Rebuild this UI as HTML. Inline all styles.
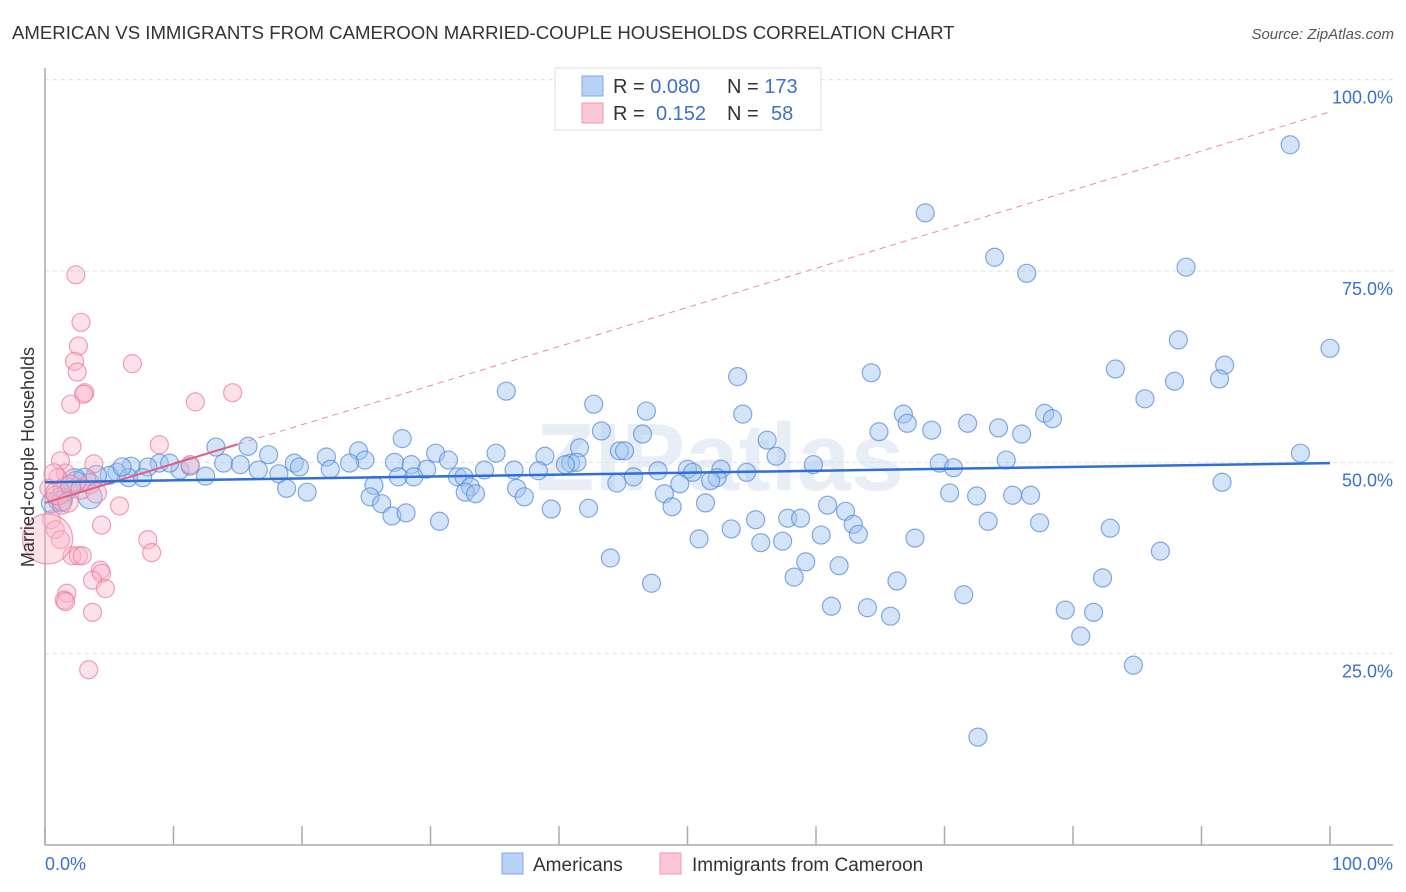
<!DOCTYPE html>
<html><head><meta charset="utf-8"><style>
body{margin:0;background:#fff;font-family:"Liberation Sans",sans-serif;}
svg{display:block}
</style></head><body>
<svg id="chart" width="1406" height="892">
<text x="12" y="39" font-size="18.6" fill="#333">AMERICAN VS IMMIGRANTS FROM CAMEROON MARRIED-COUPLE HOUSEHOLDS CORRELATION CHART</text>
<text x="1394" y="39" font-size="15" fill="#555" font-style="italic" text-anchor="end">Source: ZipAtlas.com</text>
<text x="720" y="490" font-size="96" fill="#e8eef6" text-anchor="middle" font-weight="bold">ZIPatlas</text>
<g id="grid"></g>
<g id="axes"></g>
<g id="marks"></g>
<text transform="translate(34,457) rotate(-90)" font-size="18" fill="#333" text-anchor="middle">Married-couple Households</text>
<text x="45" y="870" font-size="18" fill="#3d6fd1">0.0%</text>
<text x="1393" y="870" font-size="18" fill="#3d6fd1" text-anchor="end">100.0%</text>
<g>
<rect x="555" y="68" width="266" height="62" fill="#fff" stroke="#ddd"/>
<rect x="582" y="76" width="21" height="20" fill="#b8d2f5" stroke="#7fa8e6"/>
<rect x="582" y="103" width="21" height="20" fill="#fbc6d5" stroke="#ef9ab3"/>
<text x="613" y="93" font-size="20" fill="#333">R = <tspan fill="#3d6fd1">0.080</tspan><tspan x="727">N = </tspan><tspan fill="#3d6fd1">173</tspan></text>
<text x="613" y="120" font-size="20" fill="#333">R = <tspan x="656" fill="#3d6fd1">0.152</tspan><tspan x="727">N = </tspan><tspan x="771" fill="#3d6fd1">58</tspan></text>
</g>
<g>
<rect x="502" y="853" width="21" height="21" fill="#b8d2f5" stroke="#7fa8e6"/>
<text x="533" y="871" font-size="19" fill="#333">Americans</text>
<rect x="660" y="853" width="21" height="21" fill="#fbc6d5" stroke="#ef9ab3"/>
<text x="692" y="871" font-size="19" fill="#333">Immigrants from Cameroon</text>
</g>
</svg>
<script>
const yTicks=[25,50,75,100];
const yTickLabels=["25.0%","50.0%","75.0%","100.0%"];
const xTicks=[0,10,20,30,40,50,60,70,80,90,100];
const blueX=[96.9,68.5,73.9,76.4,88.8,88.2,100,91.8,83.3,87.9,91.4,53.9,64.3,35.9,85.6,42.7,46.8,54.3,66.8,77.8,67.1,71.8,78.4,69.0,74.2,43.3,46.5,64.9,56.2,76.0,27.8,13.3,15.8,30.4,38.9,35.1,41.6,21.9,24.4,17.4,97.7,56.9,74.8,69.6,70.7,59.8,40.9,41.4,44.7,45.1,24.9,27.2,23.7,19.4,19.8,22.2,28.5,31.4,34.2,36.5,38.4,40.5,47.7,50.0,50.4,52.6,54.6,52.3,51.8,29.7,32.1,32.6,27.5,28.7,45.8,44.5,49.4,18.2,12.5,16.6,13.9,15.2,10.5,11.3,8.9,8.0,6.7,5.6,5.0,6.5,4.0,3.1,2.3,1.6,1.2,3.5,0.5,91.6,33.1,32.7,33.5,36.7,37.3,18.8,20.4,25.6,25.3,26.2,27.0,28.1,30.7,39.4,42.3,48.2,48.8,51.4,60.9,62.3,62.9,63.3,70.4,72.5,73.4,75.3,76.7,77.4,82.9,86.8,53.4,55.3,57.8,58.8,55.7,57.4,50.9,60.4,67.7,44.0,47.2,59.2,58.3,61.8,66.3,82.3,71.5,79.4,81.6,61.2,64.0,65.8,80.6,84.7,72.6,7.6,9.7,6.0,1.3,2.4];
const blueY=[91.5,82.6,76.8,74.7,75.5,66.0,64.9,62.7,62.2,60.6,60.9,61.2,61.7,59.3,58.3,57.6,56.7,56.3,56.3,56.4,55.1,55.1,55.7,54.2,54.5,54.1,53.7,54.0,52.9,53.7,53.1,52.0,52.1,51.2,50.8,51.2,51.9,50.7,51.5,51.0,51.2,50.8,50.3,49.9,49.3,49.7,49.9,50.0,51.5,51.5,50.3,50.0,49.9,49.9,49.4,49.1,49.7,50.3,49.0,49.0,48.9,49.7,48.9,49.1,48.7,49.1,48.7,48.0,47.6,49.1,48.1,48.1,48.1,48.1,48.1,47.3,47.2,48.5,48.2,49.0,49.9,49.7,49.0,49.5,49.9,49.4,49.5,48.7,48.3,48.0,48.3,47.8,47.6,46.5,45.1,45.5,44.7,47.4,46.8,46.1,45.9,46.6,45.5,46.6,46.1,47.0,45.5,44.6,43.0,43.4,42.3,43.9,44.0,45.9,44.2,44.7,44.4,43.6,41.9,40.6,46.0,45.6,42.3,45.7,45.7,42.1,41.4,38.4,41.3,42.5,42.7,42.7,39.5,39.7,40.0,40.5,40.1,37.5,34.2,37.0,35.0,36.5,34.5,34.9,32.7,30.7,30.4,31.2,31.0,29.9,27.3,23.5,14.1,48.0,49.9,49.4,45.0,47.5];
const blueR=[9,9,9,9,9,9,9,9,9,9,9,9,9,9,9,9,9,9,9,9,9,9,9,9,9,9,9,9,9,9,9,9,9,9,9,9,9,9,9,9,9,9,9,9,9,9,9,9,9,9,9,9,9,9,9,9,9,9,9,9,9,9,9,9,9,9,9,9,9,9,9,9,9,9,9,9,9,9,9,9,9,9,9,9,9,9,9,9,9,9,10,11,12,12,12,12,10,9,9,9,9,9,9,9,9,9,9,9,9,9,9,9,9,9,9,9,9,9,9,9,9,9,9,9,9,9,9,9,9,9,9,9,9,9,9,9,9,9,9,9,9,9,9,9,9,9,9,9,9,9,9,9,9,9,9,9,10,10,10,20,16];
const pinkX=[2.4,2.8,2.6,2.3,2.5,6.8,3.1,3.0,2.0,11.7,14.6,2.1,8.9,3.8,1.2,11.3,1.6,1.0,0.3,0.8,1.3,0.5,0.8,1.2,5.8,4.4,8.0,8.3,2.1,2.6,2.9,4.3,4.4,3.7,4.7,1.7,1.5,1.6,3.7,3.4,0.2,1.0,2.0,2.8,3.5,0.7,1.8,4.0];
const pinkY=[74.5,68.3,65.2,63.2,61.8,62.9,59.1,58.9,57.6,57.9,59.1,52.1,52.3,49.8,50.2,49.7,48.6,48.0,46.6,45.7,44.4,42.5,41.2,39.9,44.3,41.8,39.9,38.2,37.8,37.8,37.8,35.9,35.5,34.6,33.5,32.9,32.0,31.8,30.4,22.9,40.0,46.0,47.0,46.5,47.2,48.5,44.8,46.0];
const pinkR=[9,9,9,9,9,9,9,9,9,9,9,9,9,9,9,9,9,9,9,9,9,9,9,9,9,9,9,9,9,9,9,9,9,9,9,9,9,9,9,9,25,12,10,10,10,10,10,10];
const blueTrend=[47.4,49.9];
const pinkTrend=[44.7,95.8];
const pinkSolidEnd=15;
const NS="http://www.w3.org/2000/svg";
const X=v=>45+v*12.85;
const Y=v=>845-v*7.653;
function mk(tag,attrs,parent){const e=document.createElementNS(NS,tag);for(const k in attrs)e.setAttribute(k,attrs[k]);parent.appendChild(e);return e;}
const grid=document.getElementById('grid'),axes=document.getElementById('axes'),marks=document.getElementById('marks');
yTicks.forEach((t,i)=>{
 const l=mk('line',{x1:45,x2:1393,y1:Y(t),y2:Y(t),stroke:'#ddd','stroke-dasharray':'4,4'},grid);
 
 
 const tx=mk('text',{x:1393,y:Y(t)+24,'font-size':18,fill:'#3d6fd1','text-anchor':'end'},axes);
 tx.textContent=yTickLabels[i];
 
 
});
const ya=mk('line',{x1:45,x2:45,y1:68,y2:845,stroke:'#aaa','stroke-width':1.5},axes);


const xa=mk('line',{x1:45,x2:1393,y1:845,y2:845,stroke:'#aaa','stroke-width':1.5},axes);


xTicks.forEach(t=>{
 const l=mk('line',{x1:X(t),x2:X(t),y1:826,y2:845,stroke:'#aaa','stroke-width':1.5},axes);
 
 
});
blueX.forEach((v,i)=>{
 const c=mk('circle',{cx:X(v),cy:Y(blueY[i]),r:blueR[i],fill:'rgba(160,195,240,0.45)',stroke:'rgba(80,135,215,0.7)','stroke-width':1.2},marks);
 
 
});
pinkX.forEach((v,i)=>{
 const c=mk('circle',{cx:X(v),cy:Y(pinkY[i]),r:pinkR[i],fill:'rgba(250,180,200,0.4)',stroke:'rgba(235,120,155,0.7)','stroke-width':1.2},marks);
 
 
});
const pt=v=>pinkTrend[0]+(pinkTrend[1]-pinkTrend[0])*v/100;
const pd=mk('line',{x1:X(pinkSolidEnd),y1:Y(pt(pinkSolidEnd)),x2:X(100),y2:Y(pt(100)),stroke:'#e88aa6','stroke-width':1,'stroke-dasharray':'6,5'},marks);


const ps=mk('line',{x1:X(0),y1:Y(pt(0)),x2:X(pinkSolidEnd),y2:Y(pt(pinkSolidEnd)),stroke:'#e0607f','stroke-width':2},marks);


const bl=mk('line',{x1:X(0),y1:Y(blueTrend[0]),x2:X(100),y2:Y(blueTrend[1]),stroke:'#2f6fd6','stroke-width':2.5},marks);


</script>
</body></html>
